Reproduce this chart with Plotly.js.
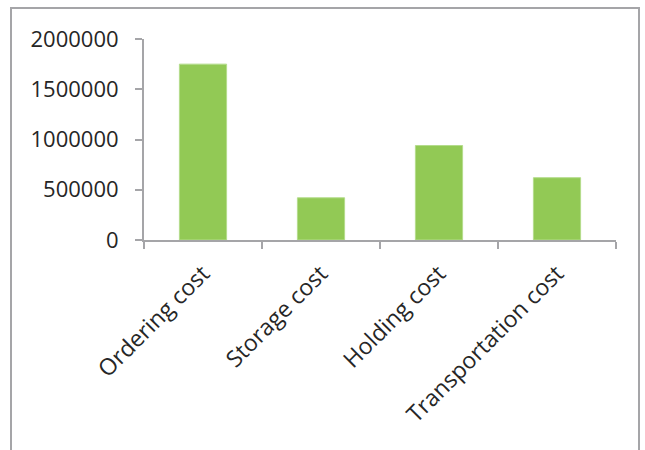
<!DOCTYPE html>
<html>
<head>
<meta charset="utf-8">
<script src="https://cdn.plot.ly/plotly-3.0.1.min.js"></script>
<style>
  html, body { margin: 0; padding: 0; background: #ffffff; }
  #wrap { position: relative; width: 645px; height: 450px; overflow: hidden; }
  #chart { position: absolute; left: 0; top: 0; width: 645px; height: 450px; }
  /* chart-area frame, open at the bottom */
  #frame {
    position: absolute; left: 10px; top: 7px; width: 630px; height: 460px;
    border: 2px solid #a5a5a8; pointer-events: none; box-sizing: border-box;
  }
</style>
</head>
<body>
<div id="wrap">
  <div id="chart"></div>
  <div id="frame"></div>
</div>
<script>
// Cost categories and their amounts
const categories = ["Ordering cost", "Storage cost", "Holding cost", "Transportation cost"];
const costs = [1750000, 420000, 940000, 620000];
const yTicks = [0, 500000, 1000000, 1500000, 2000000];

const axisGrey = "#a5a5a8";
const fontFamily = "Open Sans, Lato, sans-serif";
const yFont = { family: fontFamily, size: 22, color: "#262626" };
const xFont = { family: fontFamily, size: 23, color: "#262626" };

const trace = {
  type: "bar",
  x: categories,
  y: costs,
  marker: { color: "#92c955", line: { color: "#b4dc8c", width: 1 } },
  hoverinfo: "x+y"
};

const layout = {
  width: 645,
  height: 450,
  margin: { l: 144, r: 29, t: 39, b: 210 },
  paper_bgcolor: "#ffffff",
  plot_bgcolor: "#ffffff",
  showlegend: false,
  bargap: 0.6,
  font: yFont,
  xaxis: {
    type: "category",
    showline: true,
    linecolor: axisGrey,
    linewidth: 2,
    showgrid: false,
    zeroline: false,
    ticks: "outside",
    tickson: "boundaries",
    ticklen: 7,
    tickwidth: 2,
    tickcolor: axisGrey,
    tickangle: -45,
    ticklabelstandoff: 9,
    tickfont: xFont
  },
  yaxis: {
    range: [0, 2000000],
    tickvals: yTicks,
    ticktext: yTicks.map(String),
    showline: true,
    linecolor: axisGrey,
    linewidth: 2,
    showgrid: false,
    zeroline: false,
    ticks: "outside",
    ticklen: 7,
    tickwidth: 2,
    tickcolor: axisGrey,
    ticklabelstandoff: 12,
    tickfont: yFont
  }
};

Plotly.newPlot("chart", [trace], layout, { displayModeBar: false, staticPlot: true });
</script>
</body>
</html>
